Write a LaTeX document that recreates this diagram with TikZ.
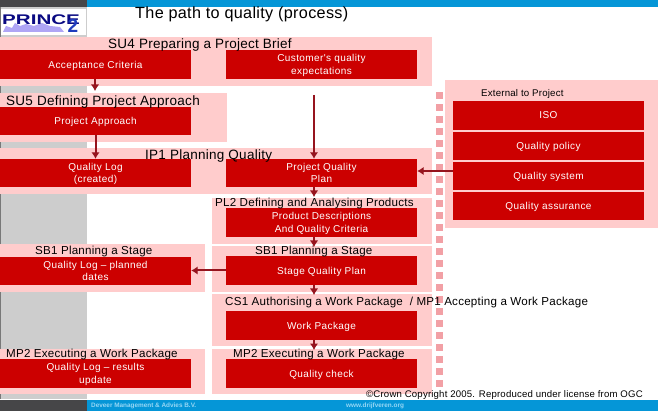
\documentclass[tikz,border=0pt]{standalone}
\usepackage{fontspec}
\setmainfont{Liberation Sans}
\newfontfamily\hfont[LetterSpace=2]{Liberation Sans}
\newfontfamily\bfont[LetterSpace=4]{Liberation Sans}
\usetikzlibrary{arrows.meta}
\definecolor{panelpink}{RGB}{255,204,204}
\definecolor{boxred}{RGB}{204,0,0}
\definecolor{arrowred}{RGB}{150,20,30}
\definecolor{dotpink}{RGB}{242,160,165}
\definecolor{sidegray}{RGB}{205,205,205}
\definecolor{darkbar}{RGB}{70,70,72}
\definecolor{edgegray}{RGB}{120,120,120}
\definecolor{barblue}{RGB}{5,150,215}
\definecolor{logonavy}{RGB}{10,10,130}
\definecolor{logoblue}{RGB}{30,60,190}
\definecolor{logolilac}{RGB}{175,165,245}
\definecolor{footblue}{RGB}{150,215,245}
\tikzset{
  panel/.style={fill=panelpink,draw=none},
  redbox/.style={fill=boxred,draw=none,text=white,inner sep=0pt,align=center,text depth=0pt,
    font=\bfont\fontsize{10}{12.5}\selectfont},
  heading/.style={anchor=west,inner sep=0pt,text=black,font=\hfont\fontsize{11.6}{13}\selectfont},
  bighead/.style={heading,font=\hfont\fontsize{13.5}{15}\selectfont},
  flow/.style={draw=arrowred,line width=2pt,-{Latex[length=6.5pt,width=8.5pt]}},
  dotsq/.style={fill=dotpink,draw=none},
  foot/.style={anchor=west,inner sep=0pt,text=footblue,font=\bfseries\fontsize{6.4}{7}\selectfont}
}
\newcommand{\rbox}[6]{\node[redbox,minimum width=#4 pt - #3 pt,minimum height=#6 pt - #5 pt] (#1) at ({(#3+#4)/2},{(#5+#6)/2}) {#2};}
\begin{document}
\begin{tikzpicture}[x=1pt,y=-1pt]
\useasboundingbox (0,0) rectangle (658,411);
\fill[white] (0,0) rectangle (658,411);
% frame
\fill[sidegray] (0,0) rectangle (87,411);
\fill[darkbar] (0,0) rectangle (87,7);
\fill[barblue] (87,0) rectangle (658,7);
\fill[edgegray] (0,7) rectangle (1,411);
\fill[white] (87,7) -- (657,7) -- (657,398) -- (87,398) -- cycle;
\fill[white] (0,399) rectangle (658,400);
\fill[darkbar] (0,400) rectangle (87,411);
\fill[barblue] (87,400) rectangle (658,411);
% logo
\fill[white] (1,9) rectangle (86,35);
\fill[logolilac] (3,32) -- (6,26) -- (12,28) -- (15,23) -- (20,26) -- (26,24) -- (34,26) -- (42,23) -- (50,26) -- (60,27) -- (64,32) -- cycle;
\node[anchor=west,inner sep=0pt,text=logonavy,font=\bfseries\fontsize{14}{14}\selectfont] (logo) at (2,20) {\scalebox{1.47}[1]{PRINCE}};
\node[anchor=center,inner sep=0pt,text=logoblue,font=\bfseries\fontsize{19}{19}\selectfont] (logotwo) at (73,26) {2};
% panels
\fill[panel] (0,37) rectangle (432,86);
\fill[panel] (0,93) rectangle (227,142);
\fill[panel] (0,148) rectangle (432,194);
\fill[panel] (212,198) rectangle (432,244);
\fill[panel] (212,246) rectangle (432,292);
\fill[panel] (0,244) rectangle (205,292);
\fill[panel] (212,294) rectangle (432,346);
\fill[panel] (0,349) rectangle (205,394);
\fill[panel] (212,349) rectangle (432,394);
\fill[panel] (445,80) rectangle (658,228);
% dots
\foreach \k in {0,...,24} {\fill[dotsq] (436,{92+12*\k}) rectangle (443,{99+12*\k});}
% boxes
\rbox{accept}{Acceptance Criteria}{0}{191}{50}{79}
\rbox{cust}{Customer's quality\\expectations}{226}{417}{50}{79}
\rbox{approach}{Project Approach}{0}{191}{107}{135}
\rbox{qlog}{Quality Log\\(created)}{0}{191}{159}{187}
\rbox{qplan}{Project Quality\\Plan}{226}{417}{159}{187}
\rbox{pdesc}{Product Descriptions\\And Quality Criteria}{226}{417}{208}{237}
\rbox{qlogp}{Quality Log – planned\\dates}{0}{191}{257}{285}
\rbox{splan}{Stage Quality Plan}{226}{417}{256}{285}
\rbox{wp}{Work Package}{226}{417}{311}{340}
\rbox{qlogr}{Quality Log – results\\update}{0}{191}{359}{388}
\rbox{qcheck}{Quality check}{226}{417}{359}{388}
\rbox{iso}{ISO}{453}{644}{101}{130}
\rbox{qpol}{Quality policy}{453}{644}{132}{160}
\rbox{qsys}{Quality system}{453}{644}{162}{190}
\rbox{qass}{Quality assurance}{453}{644}{192}{220}
% headings
\node[heading,font=\hfont\fontsize{16.2}{18}\selectfont] (title) at (135,14.5) {The path to quality (process)};
\node[bighead] (hsufour) at (108,45) {SU4 Preparing a Project Brief};
\node[bighead] (hsufive) at (6,102) {SU5 Defining Project Approach};
\node[bighead] (hipone) at (145,156) {IP1 Planning Quality};
\node[heading] (hpltwo) at (215,203.5) {PL2 Defining and Analysing Products};
\node[heading] (hsbl) at (35,251.5) {SB1 Planning a Stage};
\node[heading] (hsbr) at (255,251.5) {SB1 Planning a Stage};
\node[heading] (hcs) at (225,302.5) {CS1 Authorising a Work Package\ \ / MP1 Accepting a Work Package};
\node[heading] (hmpl) at (6,354.5) {MP2 Executing a Work Package};
\node[heading] (hmpr) at (233,354.5) {MP2 Executing a Work Package};
\node[heading,font=\hfont\fontsize{9.7}{11}\selectfont] (hext) at (481,94) {External to Project};
\node[heading,font=\hfont\fontsize{9.6}{11}\selectfont] (copy) at (366,395.5) {©Crown Copyright 2005. Reproduced under license from OGC};
\node[foot] (footl) at (91,406) {Deveer Management \& Advies B.V.};
\node[foot] (footr) at (346,406) {www.drijfveren.org};
% connectors
\coordinate (afive) at (95,91);
\coordinate (custlow) at (314,95);
\draw[flow] (accept.south -| afive) -- (afive);
\draw[flow] (approach.south) -- (approach.south |- qlog.north);
\draw[flow] (custlow) -- (custlow |- qplan.north);
\coordinate (pltop) at (314,197);
\draw[flow] (qplan.south -| pltop) -- (pltop);
\coordinate (sbtop) at (314,247);
\draw[flow] (pdesc.south -| sbtop) -- (sbtop);
\coordinate (cstop) at (314,295);
\draw[flow] (splan.south -| cstop) -- (cstop);
\coordinate (mptop) at (314,350);
\draw[flow] (wp.south -| mptop) -- (mptop);
\coordinate (sysy) at (0,171);
\draw[flow] (qsys.west |- sysy) -- (qplan.east |- sysy);
\draw[flow] (splan.west) -- (qlogp.east |- splan.west);
\end{tikzpicture}
\end{document}
